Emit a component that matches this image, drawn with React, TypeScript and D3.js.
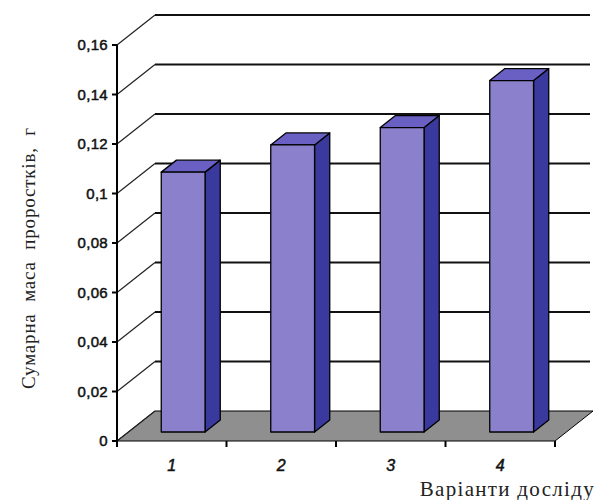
import React from "react";
import * as d3 from "d3";

const categories = ["1", "2", "3", "4"];
const values = [0.105, 0.116, 0.123, 0.142];
const yTicks = [0, 0.02, 0.04, 0.06, 0.08, 0.1, 0.12, 0.14, 0.16];
const yTickLabels = ["0", "0,02", "0,04", "0,06", "0,08", "0,1", "0,12", "0,14", "0,16"];
const yTitle = "Сумарна маса проростків, г";
const xTitle = "Варіанти досліду";

const W = 597;
const H = 500;
const X0 = 117;
const X1 = 555;
const DX = 38;
const DY = -30;

export default function App() {
  const x = d3.scaleBand<string>().domain(categories).range([X0, X1]).paddingInner(0).paddingOuter(0);
  const y = d3.scaleLinear().domain([0, 0.16]).range([441, 45]);
  const proj = (px: number, v: number, t: number): [number, number] => [px + DX * t, y(v) + DY * t];
  const pts = (arr: [number, number][]) => arr.map((p) => p.join(",")).join(" ");

  const bw = x.bandwidth() * 0.4;
  const t0 = 0.3;
  const t1 = 0.7;

  const floor: [number, number][] = [proj(X0, 0, 0), proj(X0, 0, 1), proj(X1, 0, 1), proj(X1, 0, 0)];

  return (
    <svg width={W} height={H} style={{ position: "absolute", left: 0, top: 0, background: "#fff" }}>
      {/* floor */}
      <polygon points={pts(floor)} fill="#8f8f8f" stroke="#000" strokeWidth={1} />
      {/* gridlines: side diagonals + back wall */}
      {yTicks.map((v, i) => {
        const a = proj(X0, v, 0);
        const b = proj(X0, v, 1);
        const c = proj(X1, v, 1);
        return (
          <g key={i}>
            <line x1={a[0]} y1={a[1]} x2={b[0]} y2={b[1]} stroke="#222" strokeWidth={1.2} />
            {v > 0 && <line x1={b[0]} y1={b[1]} x2={c[0] - 3} y2={c[1]} stroke="#111" strokeWidth={1.8} />}
          </g>
        );
      })}
      {/* bars */}
      {categories.map((cat, i) => {
        const v = values[i];
        const cx = (x(cat) as number) + x.bandwidth() / 2;
        const l = cx - bw / 2;
        const r = cx + bw / 2;
        const front: [number, number][] = [proj(l, 0, t0), proj(l, v, t0), proj(r, v, t0), proj(r, 0, t0)];
        const side: [number, number][] = [proj(r, 0, t0), proj(r, v, t0), proj(r, v, t1), proj(r, 0, t1)];
        const top: [number, number][] = [proj(l, v, t0), proj(l, v, t1), proj(r, v, t1), proj(r, v, t0)];
        return (
          <g key={cat} stroke="#000" strokeWidth={1.3} strokeLinejoin="round">
            <polygon points={pts(side)} fill="#3a3a9e" />
            <polygon points={pts(top)} fill="#6a60c4" />
            <polygon points={pts(front)} fill="#8a80cc" />
          </g>
        );
      })}
      {/* y axis */}
      <line x1={X0} y1={y(0.16)} x2={X0} y2={y(0) + 6} stroke="#000" strokeWidth={2} />
      {yTicks.map((v, i) => (
        <g key={"yt" + i}>
          <line x1={X0 - 5} y1={y(v)} x2={X0} y2={y(v)} stroke="#000" strokeWidth={2} />
          <text
            x={X0 - 9}
            y={y(v)}
            dy="0.36em"
            textAnchor="end"
            fontFamily="Liberation Sans, Arial, sans-serif"
            fontSize={15}
            letterSpacing={0.3}
            stroke="#111"
            strokeWidth={0.5}
            fill="#111"
          >
            {yTickLabels[i]}
          </text>
        </g>
      ))}
      {/* x axis ticks */}
      {[...categories.map((c) => x(c) as number), X1].map((px, i) => (
        <line key={"xt" + i} x1={px} y1={y(0)} x2={px} y2={y(0) + 6} stroke="#000" strokeWidth={2} />
      ))}
      {categories.map((cat) => (
        <text
          key={"xl" + cat}
          x={(x(cat) as number) + x.bandwidth() / 2}
          y={465}
          dy="0.36em"
          textAnchor="middle"
          fontFamily="Liberation Sans, Arial, sans-serif"
          fontStyle="italic"
          fontSize={16}
          stroke="#111"
          strokeWidth={0.5}
          fill="#111"
        >
          {cat}
        </text>
      ))}
      {/* titles */}
      <text
        transform={`translate(28,258) rotate(-90)`}
        textAnchor="middle"
        dy="0.35em"
        fontFamily="Liberation Serif, Times New Roman, serif"
        fontSize={19}
        wordSpacing={6}
        letterSpacing={0.8}
        fill="#222"
      >
        {yTitle}
      </text>
      <text
        x={595}
        y={496}
        textAnchor="end"
        fontFamily="Liberation Serif, Times New Roman, serif"
        fontSize={21}
        letterSpacing={1.3}
        fill="#222"
      >
        {xTitle}
      </text>
    </svg>
  );
}
